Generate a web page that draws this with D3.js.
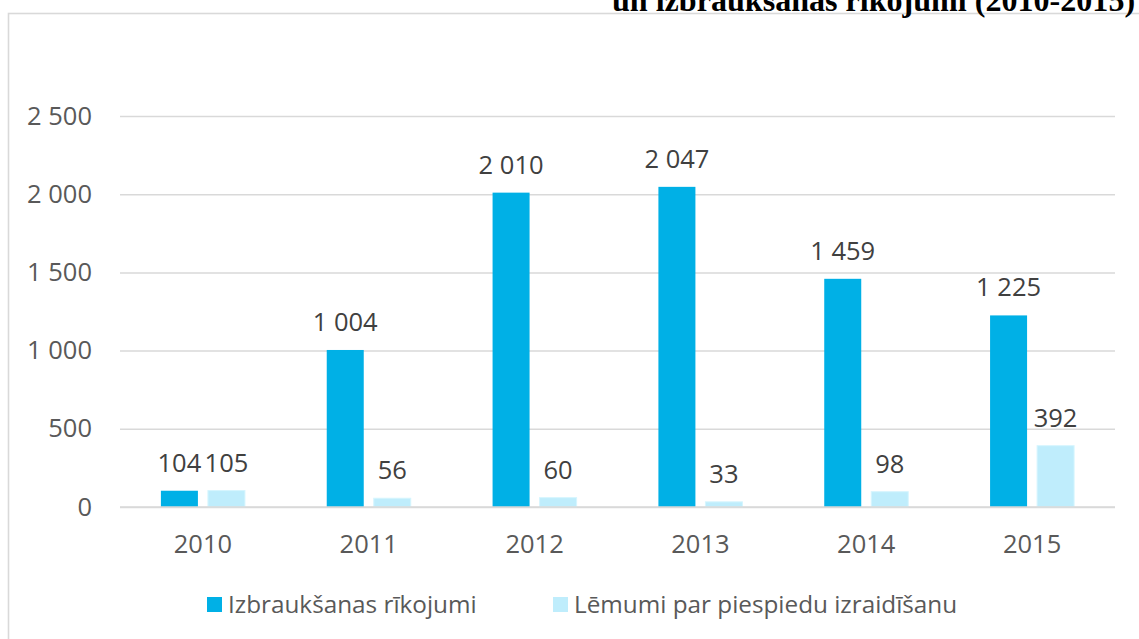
<!DOCTYPE html>
<html>
<head>
<meta charset="utf-8">
<script src="https://cdn.jsdelivr.net/npm/d3@7"></script>
<style>
  body { margin: 0; background: #fff; overflow: hidden; }
  text { font-family: "Open Sans", sans-serif; }
</style>
</head>
<body>
<div id="app"></div>
<script>
// data
const years = ["2010", "2011", "2012", "2013", "2014", "2015"]
const izbrauksanas = [104, 1004, 2010, 2047, 1459, 1225]
const lemumi = [105, 56, 60, 33, 98, 392]
const seriesNames = ["Izbraukšanas rīkojumi", "Lēmumi par piespiedu izraidīšanu"]
const seriesColors = ["#00b0e6", "#bfedfc"]
const yTicks = [0, 500, 1000, 1500, 2000, 2500]
const titleLine = "un izbraukšanas rīkojumi (2010-2015)"

const width = 1139
const height = 639

const plotLeft = 120
const plotRight = 1115
const plotTop = 116
const plotBottom = 507
const fontSize = '25.5px'

const svg = d3.select('#app')
  .append('svg')
  .attr('width', width)
  .attr('height', height)

// chart frame (runs off the right / bottom edge)
svg.append('rect')
  .attr('x', 8.5)
  .attr('y', 13.5)
  .attr('width', 1160)
  .attr('height', 700)
  .attr('fill', 'none')
  .attr('stroke', '#d9d9d9')
  .attr('stroke-width', 1.6)

// last line of the title, mostly cut off at the top
svg.append('text')
  .attr('x', 612)
  .attr('y', 11)
  .style('font-family', '"Liberation Serif", "Times New Roman", serif')
  .style('font-weight', 'bold')
  .style('font-size', '32.1px')
  .attr('fill', '#000')
  .text(titleLine)

const fmt = d3.formatLocale({ decimal: ",", thousands: " ", grouping: [3], currency: ["", ""] }).format(",d")

const x = d3.scaleBand()
  .domain(years)
  .range([plotLeft, plotRight])

const xs = d3.scaleBand()
  .domain([0, 1])
  .range([0, x.bandwidth()])
  .paddingInner(0.213)
  .paddingOuter(0.87)

const y = d3.scaleLinear()
  .domain([0, 2500])
  .range([plotBottom, plotTop])

// gridlines + y labels
const yAxis = svg.append('g')
  .attr('transform', `translate(${plotLeft},0)`)
  .call(d3.axisLeft(y).tickValues(yTicks).tickSize(-(plotRight - plotLeft)).tickPadding(28).tickFormat(fmt))
yAxis.select('.domain').remove()
yAxis.selectAll('line').attr('stroke', '#d9d9d9').attr('stroke-width', 1.5)
yAxis.selectAll('text')
  .attr('fill', '#595959')
  .style('font-size', fontSize)

// x labels
const xAxis = svg.append('g')
  .attr('transform', `translate(0,${plotBottom})`)
  .call(d3.axisBottom(x).tickSize(0).tickPadding(28))
xAxis.select('.domain').remove()
xAxis.selectAll('text')
  .attr('fill', '#595959')
  .style('font-size', fontSize)

const series = [izbrauksanas, lemumi]

series.forEach((vals, s) => {
  const g = svg.append('g')
  g.selectAll('rect')
    .data(vals)
    .join('rect')
    .attr('x', (d, i) => x(years[i]) + xs(s))
    .attr('width', xs.bandwidth())
    .attr('y', d => y(d))
    .attr('height', d => y(0) - y(d))
    .attr('fill', seriesColors[s])
    .attr('stroke', s == 1 ? '#d6f5fe' : 'none')
    .attr('stroke-width', 1)

  g.selectAll('text')
    .data(vals)
    .join('text')
    .attr('x', (d, i) => x(years[i]) + xs(s) + xs.bandwidth() / 2)
    .attr('y', d => y(d) - 19)
    .attr('text-anchor', 'middle')
    .attr('fill', '#404040')
    .style('font-size', fontSize)
    .text(d => fmt(d))
})

// zero line drawn over the bars
svg.append('line')
  .attr('x1', plotLeft)
  .attr('x2', plotRight)
  .attr('y1', y(0))
  .attr('y2', y(0))
  .attr('stroke', '#d9d9d9')
  .attr('stroke-width', 1.5)

// legend
const legend = svg.append('g').attr('transform', 'translate(207,604)')
const legendX = [0, 346]
seriesNames.forEach((name, s) => {
  legend.append('rect')
    .attr('x', legendX[s])
    .attr('y', -7)
    .attr('width', 15)
    .attr('height', 15)
    .attr('fill', seriesColors[s])
  legend.append('text')
    .attr('x', legendX[s] + 21)
    .attr('y', 0)
    .attr('dy', '0.35em')
    .attr('fill', '#595959')
    .style('font-size', '24.3px')
    .text(name)
})
</script>
</body>
</html>
